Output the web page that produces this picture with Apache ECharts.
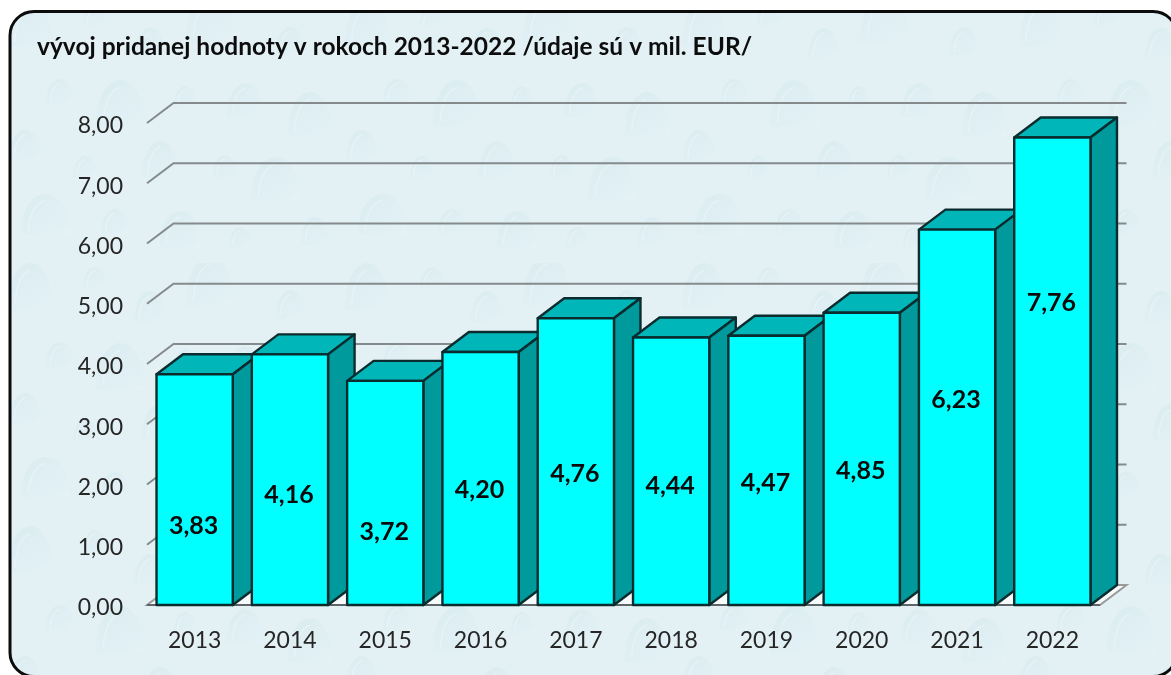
<!DOCTYPE html>
<html><head><meta charset="utf-8">
<style>html,body{margin:0;padding:0;background:#fff}#c{width:1171px;height:675px}</style>
<script src="https://cdn.jsdelivr.net/npm/echarts@6/dist/echarts.min.js"></script>
</head><body><div id="c"></div>
<script>
const titleText = 'vývoj pridanej hodnoty v rokoch 2013-2022 /údaje sú v mil. EUR/';
const categories = ['2013','2014','2015','2016','2017','2018','2019','2020','2021','2022'];
const values = [3.83,4.16,3.72,4.20,4.76,4.44,4.47,4.85,6.23,7.76];
const valueTicks = [0,1,2,3,4,5,6,7,8];
// hand-placed label heights of the original, in axis units
const labelHeights = [1.32,1.83,1.22,1.91,2.17,1.97,2.02,2.23,3.41,5.01];

const DX = 26.5, DY = 20;
const fmt = v => v.toFixed(2).replace('.', ',');

// faint water-drop wallpaper tile (decoration only)
function makeTile(){
  const W = 337, H = 263;
  const c = document.createElement('canvas'); c.width = W; c.height = H;
  const g = c.getContext('2d');
  g.fillStyle = '#e3f1f5'; g.fillRect(0,0,W,H);
  const drops = [[30,30,22,30],[95,18,12,14],[150,48,16,20],[210,25,24,32],[290,45,14,18],
    [60,95,14,16],[120,110,24,30],[185,100,11,14],[245,105,18,22],[310,120,22,28],
    [25,150,16,20],[85,170,12,14],[160,165,18,24],[225,170,12,15],[275,185,24,28],
    [45,220,24,26],[115,225,14,16],[180,235,20,24],[240,240,11,13],[315,235,14,18]];
  drops.forEach(([x,y,rx,ry])=>{
    const gr = g.createLinearGradient(x-rx,y-ry,x+rx*0.6,y+ry);
    gr.addColorStop(0,'rgba(200,225,232,0.35)');
    gr.addColorStop(0.65,'rgba(216,235,240,0.22)');
    gr.addColorStop(1,'rgba(240,249,251,0.35)');
    g.fillStyle = gr;
    g.beginPath();
    g.moveTo(x-rx,y+ry*0.55);
    g.bezierCurveTo(x-rx,y-ry*0.7,x-rx*0.3,y-ry,x,y-ry);
    g.bezierCurveTo(x+rx*0.6,y-ry,x+rx,y-ry*0.4,x+rx,y+ry*0.55);
    g.closePath(); g.fill();
    g.strokeStyle = 'rgba(245,251,252,0.35)'; g.lineWidth = 1.5;
    g.beginPath();
    g.moveTo(x-rx*0.7,y+ry*0.4);
    g.quadraticCurveTo(x-rx*0.6,y-ry*0.6,x,y-ry*0.75);
    g.stroke();
  });
  return c;
}

const chart = echarts.init(document.getElementById('c'), null, {renderer:'canvas'});

function gridItem(params, api){
  const cs = params.coordSys;
  const v = api.value(1);
  const y = api.coord([0, v])[1];
  const x0 = cs.x, x1 = cs.x + cs.width;
  const line = {stroke:'#858b8c', lineWidth:2, fill:null};
  if (v === 0) {
    return {type:'group', children:[
      {type:'polygon', shape:{points:[[x0,y],[x0+DX,y-DY],[x1+DX,y-DY],[x1,y]]},
       style:{fill:'#f6fafb', stroke:'#9a9a9a', lineWidth:2}},
      {type:'line', shape:{x1:x0,y1:y,x2:x1,y2:y}, style:{stroke:'#5f6566', lineWidth:2}}
    ]};
  }
  return {type:'polyline', shape:{points:[[x0,y],[x0+DX,y-DY],[x1+DX,y-DY]]}, style:line};
}

function barItem(params, api){
  const i = api.value(0), v = api.value(1);
  const c = api.coord([i, v]), b = api.coord([i, 0]);
  const w = api.size([1,0])[0]*0.8;
  const l = c[0]-w/2, r = c[0]+w/2, t = c[1], f = b[1];
  const edge = {stroke:'#0a2c2e', lineWidth:2.4, lineJoin:'round'};
  return {type:'group', children:[
    {type:'polygon', shape:{points:[[l,t],[l+DX,t-DY],[r+DX,t-DY],[r,t]]}, style:{fill:'#00b6b8',...edge}},
    {type:'polygon', shape:{points:[[r,t],[r+DX,t-DY],[r+DX,f-DY],[r,f]]}, style:{fill:'#009a9c',...edge}},
    {type:'rect', shape:{x:l,y:t,width:w,height:f-t}, style:{fill:'#00ffff',...edge}}
  ]};
}

function labelItem(params, api){
  const i = api.value(0), h = api.value(1);
  const p = api.coord([i, h]);
  return {type:'text', style:{x:p[0]-1, y:p[1], text:fmt(values[i]), align:'center', verticalAlign:'middle',
    fill:'#0a0a0a', font:'bold 25px Lato, sans-serif'}};
}

chart.setOption({
  animation:false,
  backgroundColor:'#ffffff',
  graphic:[{type:'rect', z:-10, silent:true,
    shape:{x:10,y:11.5,width:1167,height:665,r:24},
    style:{fill:{image:makeTile(),repeat:'repeat'}, stroke:'#0b0b0b', lineWidth:3}}],
  title:{text:titleText,left:37,top:35,padding:0,textStyle:{fontFamily:'Lato, sans-serif',fontWeight:'bold',fontSize:24.5,color:'#0d0d0d'}},
  grid:{left:147,right:71,top:123,bottom:70,containLabel:false},
  xAxis:{type:'category',data:categories,axisLine:{show:false},axisTick:{show:false},splitLine:{show:false},
    axisLabel:{fontFamily:'Lato, sans-serif',fontSize:23,color:'#262626',margin:24}},
  yAxis:{type:'value',min:0,max:8,interval:1,axisLine:{show:false},axisTick:{show:false},splitLine:{show:false},
    axisLabel:{fontFamily:'Lato, sans-serif',fontSize:23,color:'#262626',margin:24,verticalAlign:'top',lineHeight:6,formatter:v=>fmt(v)}},
  series:[
    {type:'custom',coordinateSystem:'cartesian2d',clip:false,silent:true,z:1,
     data:valueTicks.map(v=>[0,v]),encode:{x:0,y:1},renderItem:gridItem},
    {type:'custom',coordinateSystem:'cartesian2d',clip:false,silent:true,z:2,
     data:values.map((v,i)=>[i,v]),encode:{x:0,y:1},renderItem:barItem},
    {type:'custom',coordinateSystem:'cartesian2d',clip:false,silent:true,z:3,
     data:labelHeights.map((v,i)=>[i,v]),encode:{x:0,y:1},renderItem:labelItem}
  ]
});
</script></body></html>
